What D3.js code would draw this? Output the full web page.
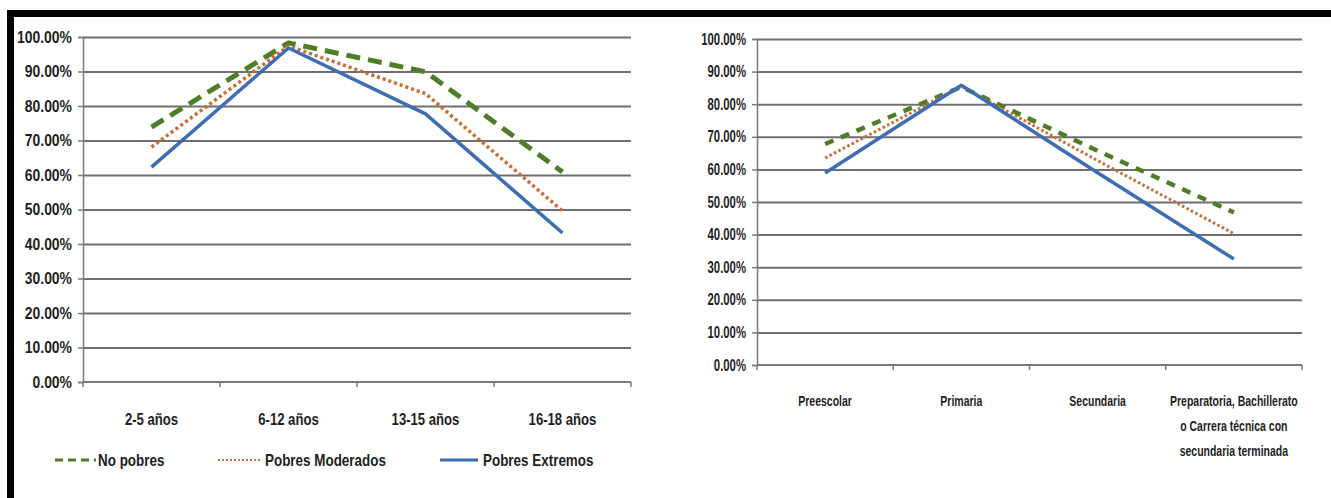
<!DOCTYPE html>
<html>
<head>
<meta charset="utf-8">
<script src="https://cdn.jsdelivr.net/npm/d3@7"></script>
<style>
  html, body { margin: 0; padding: 0; background: #fff; }
  svg { display: block; }
  text { font-family: "Liberation Sans", Arial, sans-serif; font-weight: bold; fill: #1e1e1e; }
</style>
</head>
<body>
<svg id="chart" width="1331" height="498"></svg>
<script>
// Asistencia escolar por condición de pobreza
const seriesNames = ["No pobres", "Pobres Moderados", "Pobres Extremos"];

// Panel izquierdo: por grupo de edad
const ageGroups = ["2-5 años", "6-12 años", "13-15 años", "16-18 años"];
const ageNoPobres   = [0.739, 0.983, 0.899, 0.609];
const ageModerados  = [0.681, 0.974, 0.836, 0.496];
const ageExtremos   = [0.623, 0.968, 0.777, 0.432];

// Panel derecho: por nivel educativo
const levels = ["Preescolar", "Primaria", "Secundaria", "Preparatoria, Bachillerato\no Carrera técnica con\nsecundaria terminada"];
const levelNoPobres  = [0.678, 0.853, 0.657, 0.468];
const levelModerados = [0.635, 0.855, 0.627, 0.403];
const levelExtremos  = [0.589, 0.858, 0.590, 0.325];

const yTicks = [0, 0.1, 0.2, 0.3, 0.4, 0.5, 0.6, 0.7, 0.8, 0.9, 1.0];

const styles = [
  { color: "#4f7d26", legendDash: "8,5" },
  { color: "#cc6a33", legendDash: "2,2" },
  { color: "#3d6db3", legendDash: null }
];

const svg = d3.select("#chart");

// Estrecha horizontalmente un texto alrededor de su punto de anclaje
function squeeze(sel, sx) {
  sel.each(function() {
    const ax = +this.getAttribute("x") || 0;
    this.setAttribute("transform", `translate(${ax},0) scale(${sx},1) translate(${-ax},0)`);
  });
}

// Marco negro (superior e izquierdo)
svg.append("rect").attr("x", 7).attr("y", 10).attr("width", 1324).attr("height", 7).attr("fill", "#000");
svg.append("rect").attr("x", 7).attr("y", 10).attr("width", 7).attr("height", 488).attr("fill", "#000");

function drawPanel(cfg) {
  const { left, right, top, bottom, categories, series, labelY, lineGap } = cfg;
  const g = svg.append("g");

  const x = d3.scaleBand().domain(categories).range([left, right]).paddingInner(0).paddingOuter(0);
  const y = d3.scaleLinear().domain([0, 1]).range([bottom, top]);

  // Líneas de cuadrícula
  g.append("g")
    .attr("transform", `translate(${left},0)`)
    .call(d3.axisLeft(y).tickValues(yTicks.slice(1)).tickSize(-(right - left)).tickFormat(""))
    .call(s => s.select(".domain").remove())
    .call(s => s.selectAll("line").attr("stroke", "#6f6f6f").attr("stroke-width", 2));

  // Eje Y
  const yAxis = g.append("g")
    .attr("transform", `translate(${left},0)`)
    .call(d3.axisLeft(y).tickValues(yTicks).tickSize(5).tickPadding(6).tickFormat(d3.format(".2%")));
  yAxis.attr("font-family", null).attr("font-size", null);
  yAxis.select(".domain").attr("stroke", "#7a7a7a").attr("stroke-width", 1.5);
  yAxis.selectAll("line").attr("stroke", "#7a7a7a").attr("stroke-width", 1.5);
  yAxis.selectAll("text").attr("font-size", cfg.yFontSize).attr("fill", "#1e1e1e")
    .call(squeeze, cfg.ySqueeze);

  // Eje X con marcas en los límites de categoría
  const bounds = categories.map(c => x(c)).concat([right]);
  g.append("line").attr("x1", left).attr("x2", right).attr("y1", bottom).attr("y2", bottom)
    .attr("stroke", "#7a7a7a").attr("stroke-width", 2);
  g.selectAll(".xtick").data(bounds).join("line")
    .attr("x1", d => d).attr("x2", d => d).attr("y1", bottom).attr("y2", bottom + 5)
    .attr("stroke", "#7a7a7a").attr("stroke-width", 1.5);

  const lab = g.selectAll(".xlab").data(categories).join("text")
    .attr("text-anchor", "middle")
    .attr("font-size", cfg.xFontSize)
    .attr("x", d => x(d) + x.bandwidth() / 2)
    .attr("y", labelY);
  lab.each(function(d) {
    const t = d3.select(this);
    d.split("\n").forEach((line, i) => {
      t.append("tspan").attr("x", x(d) + x.bandwidth() / 2).attr("dy", i === 0 ? 0 : lineGap).text(line);
    });
  });
  lab.call(squeeze, cfg.xSqueeze);

  // Series
  const line = d3.line().x((d, i) => x(categories[i]) + x.bandwidth() / 2).y(d => y(d));
  series.forEach((vals, k) => {
    g.append("path").datum(vals)
      .attr("fill", "none")
      .attr("stroke", styles[k].color)
      .attr("stroke-width", cfg.dashes[k].width)
      .attr("stroke-dasharray", cfg.dashes[k].dash)
      .attr("stroke-linejoin", "round")
      .attr("d", line);
  });
}

drawPanel({
  left: 83, right: 631, top: 37, bottom: 382,
  categories: ageGroups,
  series: [ageNoPobres, ageModerados, ageExtremos],
  yFontSize: 17, ySqueeze: 0.82,
  xFontSize: 16, xSqueeze: 0.82,
  labelY: 425, lineGap: 24,
  dashes: [
    { width: 5, dash: "14,8" },
    { width: 3.5, dash: "3,3" },
    { width: 3.5, dash: null }
  ]
});

drawPanel({
  left: 757, right: 1302, top: 39, bottom: 365,
  categories: levels,
  series: [levelNoPobres, levelModerados, levelExtremos],
  yFontSize: 16, ySqueeze: 0.71,
  xFontSize: 15, xSqueeze: 0.70,
  labelY: 406, lineGap: 25,
  dashes: [
    { width: 4.5, dash: "9,8" },
    { width: 3, dash: "2.5,2.5" },
    { width: 3.5, dash: null }
  ]
});

// Leyenda
const legendItems = [
  { x1: 55, x2: 96, tx: 98 },
  { x1: 218, x2: 262, tx: 265 },
  { x1: 440, x2: 478, tx: 483 }
];
const legend = svg.append("g");
seriesNames.forEach((name, k) => {
  const it = legendItems[k], st = styles[k];
  legend.append("line")
    .attr("x1", it.x1).attr("x2", it.x2).attr("y1", 460).attr("y2", 460)
    .attr("stroke", st.color)
    .attr("stroke-width", k === 1 ? 2 : 3)
    .attr("stroke-dasharray", st.legendDash);
  legend.append("text")
    .attr("x", it.tx).attr("y", 466)
    .attr("font-size", 16)
    .text(name)
    .call(squeeze, 0.84);
});
</script>
</body>
</html>
